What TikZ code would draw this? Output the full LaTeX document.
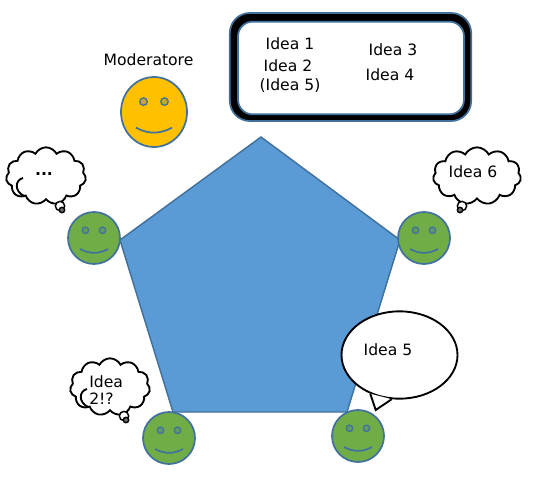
\documentclass[tikz,border=0pt]{standalone}
\usepackage{fontspec}
\setmainfont{DejaVu Sans}
\usetikzlibrary{shapes.geometric, shapes.symbols}
\definecolor{penblue}{HTML}{5B9BD5}
\definecolor{edgeblue}{HTML}{41719C}
\definecolor{facegreen}{HTML}{70AD47}
\definecolor{faceyellow}{HTML}{FFC000}

\begin{document}
\begin{tikzpicture}[
    x=0.75pt, y=-0.75pt,
    face/.style={circle, draw=edgeblue, line width=1.3pt, minimum size=39pt, inner sep=0pt},
    eye/.style={draw=edgeblue, line width=1pt},
    mouth/.style={draw=edgeblue, line width=1.3pt},
    idea/.style={font=\fontsize{11.7}{13}\selectfont, inner sep=0pt, align=left},
    thought/.style={cloud, cloud puffs=11, cloud puff arc=125, aspect=1.4, draw=black, fill=white,
                    line width=1.4pt, minimum width=60pt, minimum height=43pt, inner sep=0pt},
    puff/.style={circle, draw=black, fill=white, line width=1.1pt, minimum size=7pt, inner sep=0pt},
    puffend/.style={circle, draw=black, fill=black!55, line width=1.1pt, minimum size=4pt, inner sep=0pt},
    speech/.style={ellipse, draw=black, fill=white, line width=1.4pt,
                   minimum width=87pt, minimum height=65.5pt, inner sep=0pt}
  ]
    \useasboundingbox (0,0) rectangle (534,478);

    % table
    \draw[edgeblue, fill=penblue, line width=1.1pt]
      (261,137) -- (400,240) -- (347,412) -- (173,412) -- (120,240) -- cycle;

    % people
    \foreach \n/\x/\y in {left/94/238, right/424/238, botleft/169/438, botright/358/436} {
      \node[face, fill=facegreen] (\n) at (\x,\y) {};
      \draw[eye, fill=facegreen!70!edgeblue] ([shift={(-8.5,-7.7)}]\n.center) circle[radius=2.4pt];
      \draw[eye, fill=facegreen!70!edgeblue] ([shift={(8.5,-7.7)}]\n.center) circle[radius=2.4pt];
      \draw[mouth] ([shift={(-14,11)}]\n.center) to[bend right=28] ([shift={(14,11)}]\n.center);
    }

    % moderator
    \node[ellipse, draw=edgeblue, fill=faceyellow, line width=1.3pt, minimum width=49.5pt,
          minimum height=52.5pt, inner sep=0pt] (mod) at (154,112) {};
    \draw[eye, fill=faceyellow!70!edgeblue] ([shift={(-10.5,-10.4)}]mod.center) circle[radius=2.8pt];
    \draw[eye, fill=faceyellow!70!edgeblue] ([shift={(10.5,-10.4)}]mod.center) circle[radius=2.8pt];
    \draw[mouth] ([shift={(-18,15.7)}]mod.center) to[bend right=28] ([shift={(18,15.7)}]mod.center);
    \node[idea] (modname) at (148.5,60) {Moderatore};

    % board
    \node[rectangle, rounded corners=15pt, draw=edgeblue, fill=black, line width=1.3pt,
          minimum width=181pt, minimum height=81pt] (board) at (350.5,67) {};
    \node[rectangle, rounded corners=11pt, draw=edgeblue, fill=white, line width=1.3pt,
          minimum width=169.5pt, minimum height=69.5pt] (boardin) at (351,68) {};
    \node[idea] (i1) at (290,44) {Idea 1};
    \node[idea] (i2) at (288,66) {Idea 2};
    \node[idea] (i5) at (290,86) {(Idea 5)};
    \node[idea] (i3) at (393,50) {Idea 3};
    \node[idea] (i4) at (390,75) {Idea 4};

    % thoughts
    \node[thought] (cl1) at (46,176) {};
    \node[puff] (cl1a) at (60,206) {};
    \node[puffend] (cl1b) at (62,210) {};
    \node[idea] (cl1t) at (44,174) {\textbf{...}};

    \node[thought, minimum width=66pt] (cl2) at (477,176) {};
    \node[puff] (cl2a) at (462,206) {};
    \node[puffend] (cl2b) at (460,210) {};
    \node[idea] (cl2t) at (473,172) {Idea 6};

    \node[thought] (cl3) at (110,387) {};
    \node[puff] (cl3a) at (124,416) {};
    \node[puffend] (cl3b) at (126,420) {};
    \node[idea, anchor=north west] (cl3t) at (89,375) {Idea\\2!?};

    \foreach \n in {cl1, cl3} {
      \draw[line width=1.4pt] ([shift={(-23,2)}]\n.center) .. controls ([shift={(-31,4)}]\n.center)
        and ([shift={(-32,15)}]\n.center) .. ([shift={(-22,20)}]\n.center);
    }

    % speech bubble
    \node[speech] (bubble) at (399.5,355) {};
    \coordinate (tip) at (375.7,410);
    \draw[fill=white, line width=1.4pt, line join=miter] (bubble.233) -- (tip) -- (bubble.260);
    \node[idea] (bubblet) at (388,350) {Idea 5};
  \end{tikzpicture}
\end{document}
